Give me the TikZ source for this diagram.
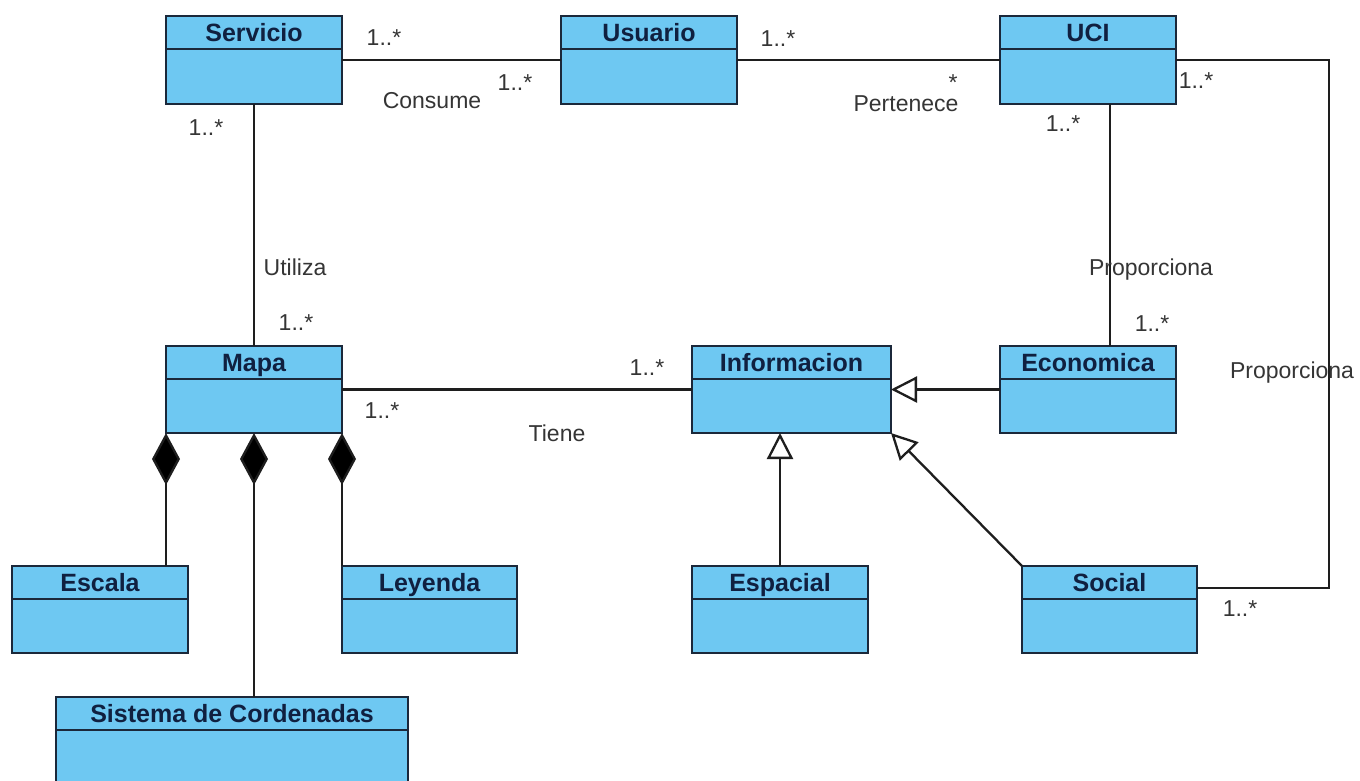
\documentclass[tikz,border=0pt]{standalone}
\usepackage{fontspec}
\setmainfont{Liberation Sans}
\usetikzlibrary{arrows.meta}
\definecolor{clsfill}{RGB}{110,200,242}
\definecolor{clsdraw}{RGB}{27,40,58}
\definecolor{clstext}{RGB}{16,32,64}
\definecolor{lnk}{RGB}{30,30,30}
\newcommand{\umlbox}[6]{%
  \node[cls, minimum width=#4pt, minimum height=#5pt] (#1) at (#2,#3) {};
  \draw[clsdraw, line width=2.6pt] ([yshift=-33pt]#1.north west) -- ([yshift=-33pt]#1.north east);
  \node[ttl, anchor=base] (#1-t) at ([yshift=-25.5pt]#1.north) {#6};
}
\begin{document}
\begin{tikzpicture}[x=1pt,y=-1pt,
  cls/.style={draw=clsdraw, fill=clsfill, line width=2.8pt, anchor=north west, inner sep=0pt, outer sep=0pt},
  ttl/.style={font=\fontsize{25}{25}\selectfont\bfseries, text=clstext, inner sep=0pt},
  lbl/.style={font=\fontsize{23}{23}\selectfont, text=lnk!90!white, inner sep=0pt, text height=16pt, text depth=0pt},
  conn/.style={draw=lnk, line width=2.3pt},
  comp/.style={conn, -{Diamond[length=52pt,width=28pt,fill=black]}},
  gen/.style={conn, -{Triangle[open,fill=white,length=26pt,width=26pt]}}]
\useasboundingbox (0,0) rectangle (1360,780);
\clip (0,0) rectangle (1360,780);
\fill[white] (0,0) rectangle (1360,780);

% coordinates for bends
\coordinate (px) at (1110,0);
\coordinate (c1) at (1329,60);
\coordinate (c2) at (1329,588);

% classes
\umlbox{serv}{166}{16}{176}{88}{Servicio}
\umlbox{usu}{561}{16}{176}{88}{Usuario}
\umlbox{uci}{1000}{16}{176}{88}{UCI}
\umlbox{mapa}{166}{346}{176}{87}{Mapa}
\umlbox{info}{692}{346}{199}{87}{Informacion}
\umlbox{eco}{1000}{346}{176}{87}{Economica}
\umlbox{esc}{12}{566}{176}{87}{Escala}
\umlbox{ley}{342}{566}{175}{87}{Leyenda}
\umlbox{esp}{692}{566}{176}{87}{Espacial}
\umlbox{soc}{1022}{566}{175}{87}{Social}
\umlbox{sis}{56}{697}{352}{100}{Sistema de Cordenadas}

% connectors
\draw[conn] (serv.east) -- (usu.west);
\draw[conn] (usu.east) -- (uci.west);
\draw[conn] (uci.east) -- (c1) -- (c2) -- (c2 -| soc.east);
\draw[conn] (serv.south) -- (mapa.north);
\draw[conn] (uci.south -| px) -- (eco.north -| px);
\draw[conn] (mapa.east) -- (info.west);
\draw[gen] (eco.west) -- (info.east);
\draw[gen] (esp.north) -- (esp.north |- info.south);
\draw[gen] (soc.north west) -- (info.south east);
\draw[comp] (mapa.south west |- esc.north) -- (mapa.south west);
\draw[comp] (mapa.south |- sis.north) -- (mapa.south);
\draw[comp] (ley.north west) -- (mapa.south east);

% labels
\node[lbl] (m1) at (384,37) {1..*};
\node[lbl] (m2) at (515,82) {1..*};
\node[lbl] (a1) at (432,100) {Consume};
\node[lbl] (m3) at (778,38) {1..*};
\node[lbl] (m4) at (953,82) {*};
\node[lbl] (a2) at (906,103) {Pertenece};
\node[lbl] (m5) at (1196,80) {1..*};
\node[lbl] (m6) at (1063,123) {1..*};
\node[lbl] (m7) at (206,127) {1..*};
\node[lbl] (a3) at (295,267) {Utiliza};
\node[lbl] (m8) at (296,322) {1..*};
\node[lbl] (a4) at (1151,267) {Proporciona};
\node[lbl] (m9) at (1152,323) {1..*};
\node[lbl] (a5) at (1292,370) {Proporciona};
\node[lbl] (m10) at (647,367) {1..*};
\node[lbl] (m11) at (382,410) {1..*};
\node[lbl] (a6) at (557,433) {Tiene};
\node[lbl] (m12) at (1240,608) {1..*};
\end{tikzpicture}
\end{document}
